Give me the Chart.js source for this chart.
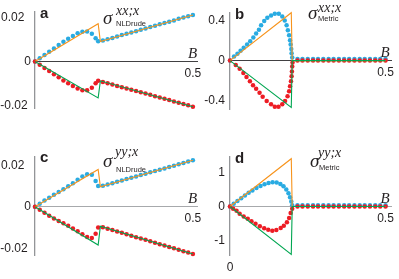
<!DOCTYPE html>
<html>
<head>
<meta charset="utf-8">
<script src="https://cdn.jsdelivr.net/npm/chart.js"></script>
<style>
  html, body { margin: 0; padding: 0; background: #fff; }
  #wrap { position: relative; width: 399px; height: 279px; overflow: hidden; }
  canvas { position: absolute; }
</style>
</head>
<body>
<div id="wrap">
  <canvas id="panelA" width="210" height="140" style="left:0;top:0"></canvas>
  <canvas id="panelB" width="199" height="140" style="left:200px;top:0"></canvas>
  <canvas id="panelC" width="210" height="139" style="left:0;top:140px"></canvas>
  <canvas id="panelD" width="199" height="139" style="left:200px;top:140px"></canvas>
</div>
<script>
// panels a and c: dots sampled along B
const bAC = [0, 0.015, 0.03, 0.045, 0.06, 0.075, 0.09, 0.105, 0.12, 0.135, 0.15, 0.165, 0.18, 0.192, 0.2,
  0.215, 0.23, 0.245, 0.26, 0.275, 0.29, 0.305, 0.32, 0.335, 0.35, 0.365, 0.38, 0.395, 0.41, 0.425, 0.44, 0.455, 0.47, 0.485, 0.5];
const blueA = [0, 0.0015, 0.003, 0.0045, 0.006, 0.0076, 0.009, 0.0104, 0.0117, 0.0129, 0.0136, 0.0137, 0.0127, 0.0106, 0.0093,
  0.0096, 0.0102, 0.0108, 0.0114, 0.0121, 0.0127, 0.0133, 0.0139, 0.0145, 0.0151, 0.0158, 0.0164, 0.017, 0.0176, 0.0182, 0.0188, 0.0195, 0.0201, 0.0207, 0.0213];
const redA = [0, -0.0014, -0.0029, -0.0043, -0.0058, -0.0072, -0.0086, -0.0099, -0.0112, -0.0123, -0.0131, -0.0131, -0.012, -0.0099, -0.0088,
  -0.0093, -0.0099, -0.0105, -0.0111, -0.0117, -0.0123, -0.0129, -0.0134, -0.014, -0.0146, -0.0152, -0.0158, -0.0164, -0.017, -0.0176, -0.0182, -0.0188, -0.0194, -0.02, -0.0206];
const blueC = [0, 0.0015, 0.003, 0.0044, 0.0058, 0.0071, 0.0085, 0.0099, 0.0114, 0.013, 0.0146, 0.0157, 0.0155, 0.0125, 0.01,
  0.0101, 0.0108, 0.0114, 0.0121, 0.0127, 0.0134, 0.014, 0.0146, 0.0153, 0.0159, 0.0166, 0.0172, 0.0179, 0.0185, 0.0192, 0.0198, 0.0205, 0.0211, 0.0218, 0.0224];
const redC = [0, -0.0014, -0.0029, -0.0043, -0.0056, -0.0068, -0.0079, -0.0091, -0.0104, -0.0118, -0.0132, -0.0145, -0.015, -0.013, -0.01,
  -0.0098, -0.0105, -0.0112, -0.0119, -0.0125, -0.0132, -0.0139, -0.0146, -0.0153, -0.0159, -0.0166, -0.0173, -0.018, -0.0186, -0.0193, -0.02, -0.0207, -0.0214, -0.022, -0.0227];
const lineAC = [0, 0.2, 0.207, 0.5];
const orangeA = [0, 0.0173, 0.0091, 0.0213];
const greenA = [0, -0.0166, -0.0088, -0.0206];
const orangeC = [0, 0.018, 0.0096, 0.0224];
const greenC = [0, -0.0184, -0.0093, -0.0227];

// panels b and d: dots along the curve, then flat after B = 0.2
const flatBD = [0.217, 0.233, 0.25, 0.267, 0.283, 0.3, 0.317, 0.333, 0.35, 0.367, 0.383, 0.4, 0.417, 0.433, 0.45, 0.467, 0.483, 0.5];
const flatBlueB = [0.015, 0.015, 0.015, 0.015, 0.015, 0.015, 0.015, 0.015, 0.015, 0.015, 0.015, 0.015, 0.015, 0.015, 0.015, 0.015, 0.015, 0.015];
const flatBlueD = [0.04, 0.04, 0.04, 0.04, 0.04, 0.04, 0.04, 0.04, 0.04, 0.04, 0.04, 0.04, 0.04, 0.04, 0.04, 0.04, 0.04, 0.04];
const flatRed = [0, 0, 0, 0, 0, 0, 0, 0, 0, 0, 0, 0, 0, 0, 0, 0, 0, 0];
const blueBx = [0, 0.013, 0.024, 0.034, 0.044, 0.055, 0.065, 0.075, 0.084, 0.093, 0.1, 0.11, 0.12, 0.132, 0.144, 0.157, 0.168, 0.176, 0.182, 0.186, 0.19, 0.193, 0.195, 0.197, 0.198, 0.2];
const blueBy = [0, 0.04, 0.069, 0.099, 0.129, 0.162, 0.195, 0.231, 0.271, 0.31, 0.353, 0.396, 0.429, 0.452, 0.469, 0.469, 0.442, 0.403, 0.353, 0.304, 0.254, 0.205, 0.162, 0.116, 0.073, 0.03];
const redBx = [0, 0.0185, 0.031, 0.043, 0.053, 0.064, 0.074, 0.084, 0.095, 0.105, 0.118, 0.132, 0.144, 0.156, 0.168, 0.177, 0.185, 0.19, 0.193, 0.196, 0.198, 0.199, 0.2, 0.201];
const redBy = [0, -0.043, -0.082, -0.125, -0.165, -0.208, -0.247, -0.283, -0.323, -0.362, -0.406, -0.438, -0.462, -0.462, -0.438, -0.406, -0.356, -0.307, -0.257, -0.208, -0.158, -0.109, -0.059, -0.02];
const blueDx = [0, 0.012, 0.024, 0.036, 0.048, 0.06, 0.072, 0.085, 0.098, 0.111, 0.124, 0.137, 0.15, 0.162, 0.172, 0.181, 0.188, 0.193, 0.197, 0.2];
const blueDy = [0, 0.08, 0.16, 0.24, 0.32, 0.4, 0.47, 0.54, 0.6, 0.65, 0.69, 0.71, 0.7, 0.66, 0.59, 0.5, 0.39, 0.27, 0.15, 0.04];
const redDx = [0, 0.01, 0.021, 0.031, 0.044, 0.057, 0.069, 0.082, 0.096, 0.11, 0.123, 0.136, 0.149, 0.163, 0.173, 0.183, 0.19, 0.195, 0.2];
const redDy = [0, -0.067, -0.125, -0.212, -0.29, -0.357, -0.435, -0.502, -0.58, -0.638, -0.68, -0.71, -0.69, -0.63, -0.56, -0.464, -0.336, -0.193, -0.067];
const lineBD = [0, 0.197, 0.2, 0.5];
const orangeB = [0, 0.48, 0, 0];
const greenB = [0, -0.47, 0, 0];
const orangeD = [0, 1.4, 0, 0];
const greenD = [0, -1.4, 0, 0];

// axis ticks
const yTicksAC = [-0.02, 0, 0.02];
const yLabelsAC = ['-0.02 ', '0', '0.02  '];
const yTicksB = [-0.4, 0, 0.4];
const yLabelsB = ['-0.4', '0', '0.4'];
const yTicksD = [-1, 0, 1];
const yLabelsD = ['-1', '0', '1'];
const xTicks = [0.5];
const xLabels = ['0.5'];

const BLUE = '#29ABE2', RED = '#ED1C24', ORANGE = '#F7941D', GREEN = '#00A651';
const INK = '#231f20';

function pts(xs, ys) {
  return xs.map((x, i) => ({ x: x, y: ys[i] }));
}

// panel letter, sigma label, B and stray 0 label
const annot = {
  id: 'annot',
  afterDraw(chart, args, o) {
    const ctx = chart.ctx;
    const xs = chart.scales.x, ys = chart.scales.y;
    ctx.save();
    ctx.fillStyle = INK;
    ctx.textAlign = 'left';
    ctx.textBaseline = 'alphabetic';
    ctx.font = 'bold 15px "Liberation Sans", Arial, sans-serif';
    ctx.fillText(o.letter, o.lx, o.ly);
    ctx.font = 'italic 19px "Liberation Serif", "Times New Roman", serif';
    ctx.fillText('\u03c3', o.sx, o.sy);
    ctx.font = 'italic 14px "Liberation Serif", "Times New Roman", serif';
    ctx.fillText(o.sup, o.supx, o.supy);
    ctx.font = '7.5px "Liberation Sans", Arial, sans-serif';
    ctx.fillText(o.sub, o.subx, o.suby);
    ctx.font = 'italic 15px "Liberation Serif", "Times New Roman", serif';
    ctx.fillText('B', xs.getPixelForValue(0.5) - 5, ys.getPixelForValue(0) - 4);
    if (o.zero) {
      ctx.font = '12px "Liberation Sans", Arial, sans-serif';
      ctx.textAlign = 'center';
      ctx.textBaseline = 'middle';
      ctx.fillText('0', xs.getPixelForValue(0), o.zeroY);
    }
    ctx.restore();
  }
};

function makePanel(p) {
  const dot = (data, color) => ({
    data: data, backgroundColor: color, borderWidth: 0, pointRadius: 2.25,
    showLine: false, order: 1, clip: false
  });
  const line = (data, color) => ({
    data: data, borderColor: color, borderWidth: 1.1, pointRadius: 0,
    showLine: true, fill: false, order: 0, clip: false
  });
  new Chart(document.getElementById(p.id), {
    type: 'scatter',
    data: {
      datasets: [
        line(p.green, GREEN),
        line(p.orange, ORANGE),
        dot(p.red, RED),
        dot(p.blue, BLUE)
      ]
    },
    options: {
      responsive: false,
      animation: false,
      layout: { padding: p.pad },
      plugins: { legend: { display: false }, tooltip: { enabled: false }, annot: p.text },
      scales: {
        x: {
          type: 'linear', min: 0, max: p.xMax,
          position: { y: 0 },
          grid: { display: false, drawTicks: false },
          border: { display: true, color: p.xAxisColor, width: 1.1 },
          afterBuildTicks: s => { s.ticks = xTicks.map(v => ({ value: v })); },
          afterFit: s => { s.height = 0; },
          ticks: {
            padding: 5, color: INK, maxRotation: 0,
            font: { family: '"Liberation Sans", Arial, sans-serif', size: 12 },
            callback: (v, i) => xLabels[i]
          }
        },
        y: {
          type: 'linear', min: p.yMin, max: p.yMax,
          position: 'left',
          grid: { display: false, drawTicks: false },
          border: { display: true, color: '#939598', width: 1.3 },
          afterBuildTicks: s => { s.ticks = p.yTicks.map(v => ({ value: v })); },
          afterFit: s => { s.width = p.yWidth; },
          ticks: {
            padding: p.tickPad, color: INK,
            font: { family: '"Liberation Sans", Arial, sans-serif', size: 12 },
            callback: (v, i) => p.yLabels[i]
          }
        }
      }
    },
    plugins: [annot]
  });
}

makePanel({
  id: 'panelA', xMax: 0.513, yMin: -0.0212, yMax: 0.023,
  yTicks: yTicksAC, yLabels: yLabelsAC, yWidth: 35, tickPad: 4,
  pad: { left: 0, right: 13, top: 10, bottom: 32 }, xAxisColor: '#414042',
  blue: pts(bAC, blueA), red: pts(bAC, redA),
  orange: pts(lineAC, orangeA), green: pts(lineAC, greenA),
  text: { letter: 'a', lx: 40, ly: 18, sx: 103, sy: 24, sup: 'xx;x', supx: 116, supy: 15, sub: 'NLDrude', subx: 116, suby: 25.5 }
});

makePanel({
  id: 'panelB', xMax: 0.518, yMin: -0.485, yMax: 0.485,
  yTicks: yTicksB, yLabels: yLabelsB, yWidth: 30, tickPad: 5,
  pad: { left: 0, right: 1, top: 12, bottom: 31 }, xAxisColor: '#414042',
  blue: pts(blueBx.concat(flatBD), blueBy.concat(flatBlueB)),
  red: pts(redBx.concat(flatBD), redBy.concat(flatRed)),
  orange: pts(lineBD, orangeB), green: pts(lineBD, greenB),
  text: { letter: 'b', lx: 35, ly: 19, sx: 108, sy: 19, sup: 'xx;x', supx: 118, supy: 12, sub: 'Metric', subx: 118, suby: 21 }
});

makePanel({
  id: 'panelC', xMax: 0.513, yMin: -0.0232, yMax: 0.024,
  yTicks: yTicksAC, yLabels: yLabelsAC, yWidth: 35, tickPad: 4,
  pad: { left: 0, right: 13, top: 17, bottom: 24 }, xAxisColor: '#A7A9AC',
  blue: pts(bAC, blueC), red: pts(bAC, redC),
  orange: pts(lineAC, orangeC), green: pts(lineAC, greenC),
  text: { letter: 'c', lx: 40, ly: 22, sx: 103, sy: 26.5, sup: 'yy;x', supx: 115, supy: 15.5, sub: 'NLDrude', subx: 116, suby: 31.5 }
});

makePanel({
  id: 'panelD', xMax: 0.518, yMin: -1.42, yMax: 1.45,
  yTicks: yTicksD, yLabels: yLabelsD, yWidth: 30, tickPad: 5,
  pad: { left: 0, right: 1, top: 17, bottom: 24 }, xAxisColor: '#A7A9AC',
  blue: pts(blueDx.concat(flatBD), blueDy.concat(flatBlueD)),
  red: pts(redDx.concat(flatBD), redDy.concat(flatRed)),
  orange: pts(lineBD, orangeD), green: pts(lineBD, greenD),
  text: { letter: 'd', lx: 35, ly: 23, sx: 110, sy: 26.5, sup: 'yy;x', supx: 118, supy: 17, sub: 'Metric', subx: 119, suby: 30, zero: true, zeroY: 128 }
});
</script>
</body>
</html>
